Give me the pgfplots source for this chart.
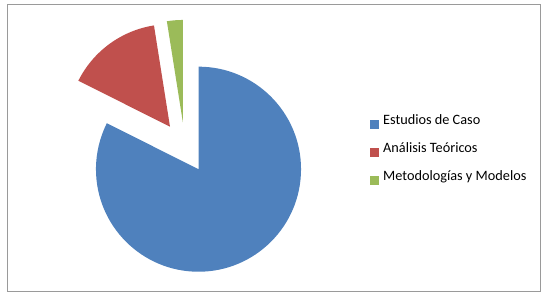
\documentclass[border=0pt]{standalone}
\usepackage{pgfplots}
\pgfplotsset{compat=1.18}
\usepackage{pgfplotstable}
\usepackage{fontspec}
\setmainfont{Carlito}
\definecolor{cBlue}{HTML}{4F81BD}
\definecolor{cRed}{HTML}{C0504D}
\definecolor{cGreen}{HTML}{9BBB59}
\definecolor{cFrame}{HTML}{9A9A9A}

% value (percent), slice offset from pie centre (px, y up)
\pgfplotstableread{
slice value dx dy
0 82.4 0 0
1 15.1 -28.5 42.5
2 2.5 -15.6 46.7
}\piedata

\pgfplotstablegetelem{0}{value}\of\piedata\pgfmathsetmacro\vA{\pgfplotsretval}
\pgfplotstablegetelem{1}{value}\of\piedata\pgfmathsetmacro\vB{\pgfplotsretval}
\pgfplotstablegetelem{2}{value}\of\piedata\pgfmathsetmacro\vC{\pgfplotsretval}
\pgfplotstablegetelem{0}{dx}\of\piedata\pgfmathsetmacro\dxA{\pgfplotsretval}
\pgfplotstablegetelem{1}{dx}\of\piedata\pgfmathsetmacro\dxB{\pgfplotsretval}
\pgfplotstablegetelem{2}{dx}\of\piedata\pgfmathsetmacro\dxC{\pgfplotsretval}
\pgfplotstablegetelem{0}{dy}\of\piedata\pgfmathsetmacro\dyA{\pgfplotsretval}
\pgfplotstablegetelem{1}{dy}\of\piedata\pgfmathsetmacro\dyB{\pgfplotsretval}
\pgfplotstablegetelem{2}{dy}\of\piedata\pgfmathsetmacro\dyC{\pgfplotsretval}

\def\cx{198.5}\def\cy{131.8}
\def\R{76.9bp}
\pgfmathsetmacro\aA{90}
\pgfmathsetmacro\aB{\aA-3.6*\vA}
\pgfmathsetmacro\aC{\aB-3.6*\vB}
\pgfmathsetmacro\aD{\aC-3.6*\vC}
\pgfmathsetmacro\xA{\cx+\dxA}\pgfmathsetmacro\yA{\cy+\dyA}
\pgfmathsetmacro\xB{\cx+\dxB}\pgfmathsetmacro\yB{\cy+\dyB}
\pgfmathsetmacro\xC{\cx+\dxC}\pgfmathsetmacro\yC{\cy+\dyC}

\begin{document}
\begin{tikzpicture}
\begin{axis}[
  scale only axis, width=409.5bp, height=225.75bp,
  xmin=0, xmax=546, ymin=0, ymax=301,
  hide axis, clip=false,
  font=\fontsize{10.7bp}{12.8bp}\selectfont,
  legend style={at={(axis cs:370,151.8)}, anchor=west, draw=none, fill=none,
    inner sep=0pt, outer sep=0pt,
    nodes={inner sep=0pt, text height=7.5bp, text depth=2bp, anchor=base west},
    row sep=10.4bp, column sep=3.7bp,
    font=\fontsize{10.7bp}{12.8bp}\selectfont},
  legend cell align=left,
  legend image code/.code={\fill[#1] (0bp,-2.9bp) rectangle (5.8bp,2.9bp);},
]
\path (axis cs:0,0) rectangle (axis cs:546,301);
\draw[cFrame, line width=1.1bp] (axis cs:7.5,9.3) rectangle (axis cs:540.3,296.5);
\fill[cBlue] (axis cs:\xA,\yA) -- ++(\aA:\R) arc[start angle=\aA, end angle=\aB, radius=\R] -- cycle;
\fill[cRed] (axis cs:\xB,\yB) -- ++(\aB:\R) arc[start angle=\aB, end angle=\aC, radius=\R] -- cycle;
\fill[cGreen] (axis cs:\xC,\yC) -- ++(\aC:\R) arc[start angle=\aC, end angle=\aD, radius=\R] -- cycle;
\addlegendimage{cBlue}\addlegendentry{Estudios de Caso}
\addlegendimage{cRed}\addlegendentry{Análisis Teóricos}
\addlegendimage{cGreen}\addlegendentry{Metodologías y Modelos}
\end{axis}
\end{tikzpicture}
\end{document}
